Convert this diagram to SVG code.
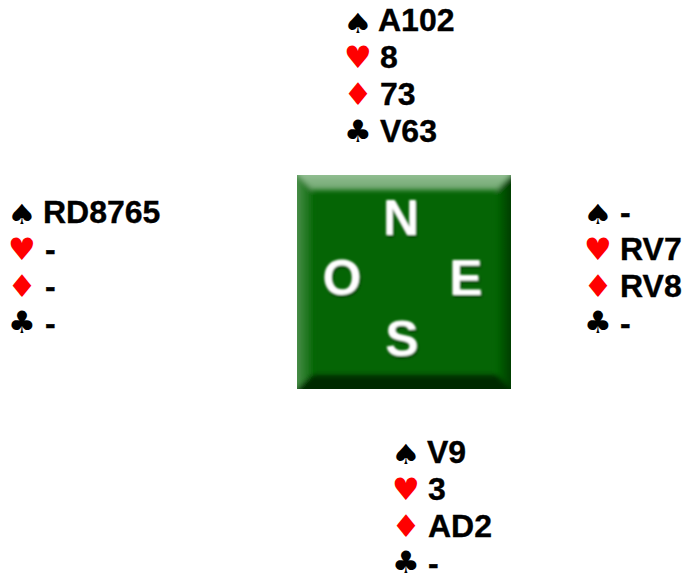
<svg xmlns="http://www.w3.org/2000/svg" width="686" height="576" viewBox="0 0 686 576">
<style>
text{font-family:"Liberation Sans",Arial,sans-serif;font-weight:700;font-size:32px;fill:#000;stroke:#000;stroke-width:.35px}
.s,.h,.d,.c{font-family:"DejaVu Sans",sans-serif;font-weight:400;text-anchor:middle;stroke:none}
.s{font-size:37px}
.h{font-size:31px;fill:#f00}
.d{font-size:33px;fill:#f00}
.c{font-size:31px}
.t{font-size:50px;fill:#fff;stroke:none;text-anchor:middle;filter:url(#soft)}
</style>
<defs>
<filter id="soft" x="-30%" y="-30%" width="160%" height="160%"><feGaussianBlur in="SourceAlpha" stdDeviation="1.8" result="b"/><feOffset in="b" dx="1" dy="2" result="o"/><feFlood flood-color="#012e01" flood-opacity=".85"/><feComposite in2="o" operator="in" result="sh"/><feGaussianBlur in="SourceGraphic" stdDeviation="1.2" result="g"/><feMerge><feMergeNode in="sh"/><feMergeNode in="g"/></feMerge></filter>
<filter id="bev" x="-5%" y="-5%" width="110%" height="110%"><feGaussianBlur stdDeviation="2.6"/></filter>
<clipPath id="tile"><rect x="297" y="175" width="214" height="214"/></clipPath>
<linearGradient id="top" x1="0" y1="0" x2="0" y2="1"><stop offset="0" stop-color="#a0c8a0"/><stop offset="1" stop-color="#6fa66f"/></linearGradient>
<linearGradient id="left" x1="0" y1="0" x2="1" y2="0"><stop offset="0" stop-color="#5f9b5f"/><stop offset="1" stop-color="#0e6c0e"/></linearGradient>
<linearGradient id="right" x1="0" y1="0" x2="1" y2="0"><stop offset="0" stop-color="#056505"/><stop offset="1" stop-color="#012a01"/></linearGradient>
</defs>
<g id="north">
<text class="s" transform="translate(358,33) scale(.9,.75)">♠</text><text x="378" y="31">A102</text>
<text class="h" x="358" y="68">♥</text><text x="380" y="68">8</text>
<text class="d" transform="translate(358,105) scale(1,.95)">♦</text><text x="380" y="105">73</text>
<text class="c" x="358" y="142">♣</text><text x="380" y="142">V63</text>
</g>
<g id="west">
<text class="s" transform="translate(22,224) scale(.9,.75)">♠</text><text x="43" y="223">RD8765</text>
<text class="h" x="22" y="260">♥</text><text x="45" y="260">-</text>
<text class="d" transform="translate(22,297) scale(1,.95)">♦</text><text x="45" y="297">-</text>
<text class="c" x="22" y="333">♣</text><text x="45" y="334">-</text>
</g>
<g id="east">
<text class="s" transform="translate(598,224) scale(.9,.75)">♠</text><text x="620" y="223">-</text>
<text class="h" x="598" y="260">♥</text><text x="620" y="260">RV7</text>
<text class="d" transform="translate(598,297) scale(1,.95)">♦</text><text x="620" y="297">RV8</text>
<text class="c" x="598" y="333">♣</text><text x="620" y="334">-</text>
</g>
<g id="south">
<text class="s" transform="translate(406,464) scale(.9,.75)">♠</text><text x="427" y="463">V9</text>
<text class="h" x="406" y="500">♥</text><text x="428" y="500">3</text>
<text class="d" transform="translate(406,537) scale(1,.95)">♦</text><text x="428" y="537">AD2</text>
<text class="c" x="406" y="573">♣</text><text x="428" y="574">-</text>
</g>
<g id="tile-board" clip-path="url(#tile)">
<rect x="297" y="175" width="214" height="214" fill="#056505"/>
<g filter="url(#bev)">
<polygon points="290,170 312,190 312,374 290,396" fill="url(#left)"/>
<polygon points="518,170 497,190 497,375 518,396" fill="url(#right)"/>
<polygon points="290,396 312,375 497,375 518,396" fill="#022a02"/>
<polygon points="290,168 518,168 497,190 312,190" fill="url(#top)"/>
</g>
<text class="t" x="401" y="235">N</text>
<text class="t" x="342" y="295">O</text>
<text class="t" x="466" y="295">E</text>
<text class="t" x="402" y="356">S</text>
</g>
</svg>
